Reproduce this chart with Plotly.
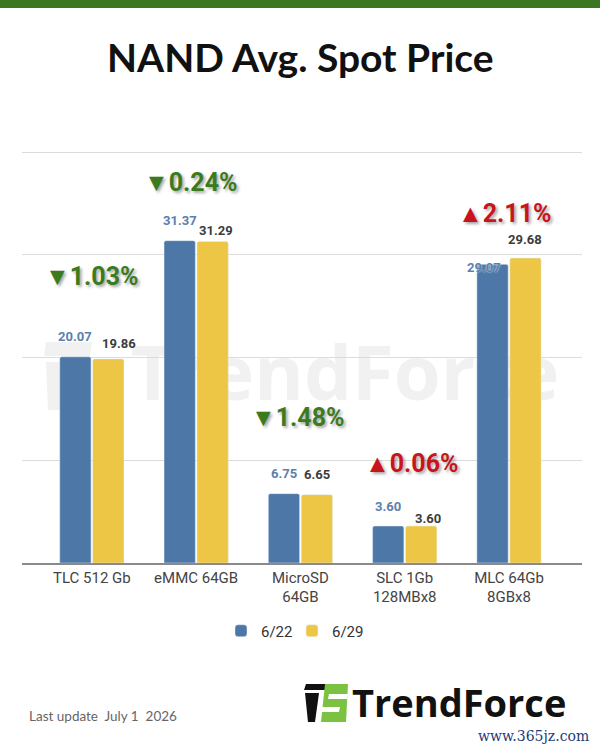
import plotly.graph_objects as go

# data
categories = ["TLC 512 Gb", "eMMC 64GB", "MicroSD<br>64GB", "SLC 1Gb<br>128MBx8", "MLC 64Gb<br>8GBx8"]
series_names = ["6/22", "6/29"]
price_0622 = [20.07, 31.37, 6.75, 3.60, 29.07]
price_0629 = [19.86, 31.29, 6.65, 3.60, 29.68]
change_pct = [-1.03, -0.24, -1.48, 0.06, 2.11]

# label nudges in pixels (styling only)
blue_dx = [0, 0, 0, 0, -9]
blue_dy = [20, 20, 20, 20, -3]
yellow_dx = [11, 3, 0, 7, 0]
yellow_dy = [15, 11, 20, 8, 19]
chg_dx = [0, -5, -2, 7, -4]
chg_dy = [80, 58, 76, 63, 45]

BLUE = "#4d77a6"
YELLOW = "#ecc644"
GREEN = "#3a7b1e"
RED = "#c8141c"

W, H = 600, 750
L, R, T, B = 22, 18, 151, 187


def fx(px):  # page pixel -> paper x
    return (px - L) / (W - L - R)


def fy(py):  # page pixel -> paper y
    return (H - B - py) / (H - T - B)


fig = go.Figure()
fig.add_trace(go.Bar(x=categories, y=price_0622, name=series_names[0],
                     marker=dict(color=BLUE, cornerradius=2)))
fig.add_trace(go.Bar(x=categories, y=price_0629, name=series_names[1],
                     marker=dict(color=YELLOW, cornerradius=2)))

annotations = []
half = 0.158  # bar centre offset inside a group
for i in range(len(categories)):
    annotations.append(dict(x=i - half, y=price_0622[i], xref="x", yref="y", text=f"{price_0622[i]:.2f}",
                            showarrow=False, xshift=blue_dx[i], yshift=blue_dy[i],
                            font=dict(family="Roboto", size=13, color="#5b80ad", weight="bold",
                                      shadow="0 0 2px #ffffff")))
    annotations.append(dict(x=i + half, y=price_0629[i], xref="x", yref="y", text=f"{price_0629[i]:.2f}",
                            showarrow=False, xshift=yellow_dx[i], yshift=yellow_dy[i],
                            font=dict(family="Roboto", size=13, color="#3c3c3c", weight="bold")))
    c = change_pct[i]
    arrow = "▲" if c > 0 else "▼"
    annotations.append(dict(x=i, y=max(price_0622[i], price_0629[i]), xref="x", yref="y",
                            text=f"{arrow}{abs(c):.2f}%", showarrow=False,
                            xshift=chg_dx[i], yshift=chg_dy[i],
                            font=dict(family="Roboto", size=25, weight="bold",
                                      color=RED if c > 0 else GREEN,
                                      shadow="2px 2px 3px rgba(0,0,0,0.35)")))

# title and footer
annotations += [
    dict(x=fx(300), y=fy(57), xref="paper", yref="paper", xanchor="center", yanchor="middle",
         text="<b>NAND Avg. Spot Price</b>", showarrow=False,
         font=dict(family="Lato", size=39, color="#111111")),
    dict(x=fx(27), y=fy(716), xref="paper", yref="paper", xanchor="left", yanchor="middle",
         text="Last update\u00a0 July 1\u00a0 2026", showarrow=False,
         font=dict(family="Lato", size=13.5, color="#666666")),
    dict(x=fx(350), y=fy(702), xref="paper", yref="paper", xanchor="left", yanchor="middle",
         text="<b>TrendForce</b>", showarrow=False,
         font=dict(family="Open Sans", size=38, color="#111111")),
    dict(x=fx(476), y=fy(736), xref="paper", yref="paper", xanchor="left", yanchor="middle",
         text="www.365jz.com", showarrow=False,
         font=dict(family="DejaVu Serif", size=14, color="#1f3a7a")),
]


def poly(pts):
    return "M " + " L ".join(f"{fx(a):.4f},{fy(b):.4f}" for a, b in pts) + " Z"


shapes = [
    # green strip on top
    dict(type="rect", xref="paper", yref="paper", x0=fx(0), x1=fx(600), y0=fy(0), y1=fy(8),
         fillcolor="#3b7720", line_width=0, layer="below"),
    # faint watermark behind the bars
    dict(type="rect", xref="paper", yref="paper", x0=fx(110), x1=fx(580), y0=fy(412), y1=fy(338),
         fillcolor="rgba(0,0,0,0)", line_width=0, layer="below",
         label=dict(text="<b>TrendForce</b>", textposition="middle center",
                    font=dict(family="Open Sans", size=76, color="#f1f1f1"))),
    dict(type="path", xref="paper", yref="paper", layer="below", line_width=0, fillcolor="#f1f1f1",
         path=poly([(46, 342), (92, 342), (90, 356), (44, 356)])),
    dict(type="path", xref="paper", yref="paper", layer="below", line_width=0, fillcolor="#f1f1f1",
         path=poly([(46, 362), (66, 362), (62, 410), (48, 410)])),
    # logo mark
    dict(type="path", xref="paper", yref="paper", line_width=0, fillcolor="#111111",
         path=poly([(306, 684), (333, 684), (331, 690), (304, 690)])),
    dict(type="path", xref="paper", yref="paper", line_width=0, fillcolor="#111111",
         path=poly([(305, 693), (319, 693), (315, 722), (308, 722)])),
    dict(type="path", xref="paper", yref="paper", line_width=0, fillcolor="#7cc242",
         path=poly([(325, 684), (348, 684), (346, 722), (321, 722)])),
    dict(type="path", xref="paper", yref="paper", line_width=0, fillcolor="#ffffff",
         path=poly([(329, 694), (348, 694), (347, 699), (328, 699)])),
    dict(type="path", xref="paper", yref="paper", line_width=0, fillcolor="#ffffff",
         path=poly([(321, 707), (340, 707), (339, 712), (321, 712)])),
]

fig.update_layout(
    width=W, height=H,
    margin=dict(l=L, r=R, t=T, b=B),
    paper_bgcolor="white",
    plot_bgcolor="rgba(0,0,0,0)",
    barmode="group",
    bargap=0.368,
    bargroupgap=0.05,
    showlegend=True,
    legend=dict(orientation="h", x=fx(292), xanchor="center", y=fy(631), yanchor="middle",
                entrywidth=26, entrywidthmode="pixels",
                font=dict(family="Roboto", size=15, color="#333333"), traceorder="normal"),
    xaxis=dict(range=[-0.67, 4.7], showline=True, linecolor="#8a8a8a", linewidth=1.5,
               showgrid=False, ticks="", tickfont=dict(family="Roboto", size=15, color="#444444")),
    yaxis=dict(range=[0, 40.1], tickvals=[10, 20, 30, 40], showticklabels=False,
               gridcolor="#dcdcdc", gridwidth=1, zeroline=False),
    annotations=annotations,
    shapes=shapes,
)

# drop the default 8px page margin so the figure sits at the window's corner
fig.write_html("out.html", config={"displayModeBar": False},
               post_script="document.body.style.margin = '0';")
